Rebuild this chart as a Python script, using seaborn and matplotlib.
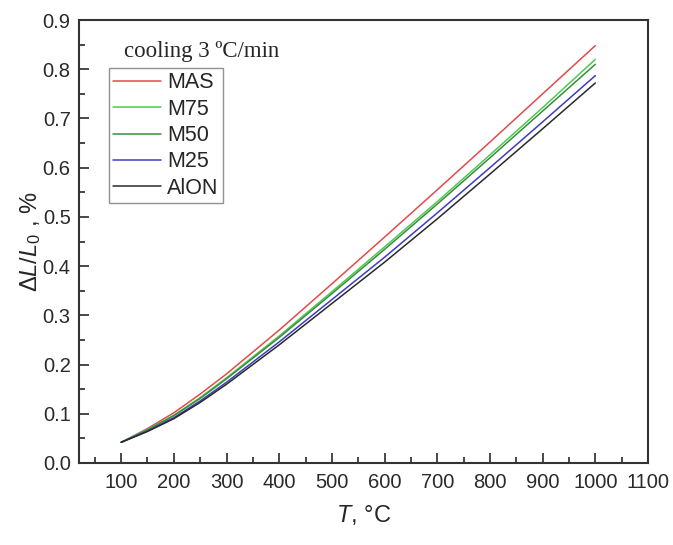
import matplotlib
matplotlib.use("Agg")
import matplotlib.pyplot as plt
import seaborn as sns
import pandas as pd
from matplotlib.ticker import MultipleLocator

T = [100, 150, 200, 250, 300, 400, 500, 600, 700, 800, 900, 1000]
MAS = [0.042, 0.070, 0.102, 0.140, 0.181, 0.270, 0.364, 0.459, 0.555, 0.652, 0.750, 0.848]
M75 = [0.042, 0.068, 0.097, 0.133, 0.173, 0.258, 0.348, 0.439, 0.531, 0.626, 0.722, 0.820]
M50 = [0.042, 0.067, 0.096, 0.131, 0.171, 0.255, 0.344, 0.434, 0.526, 0.620, 0.715, 0.810]
M25 = [0.042, 0.065, 0.092, 0.126, 0.164, 0.246, 0.332, 0.418, 0.508, 0.600, 0.693, 0.787]
AlON = [0.042, 0.064, 0.090, 0.123, 0.160, 0.240, 0.324, 0.408, 0.496, 0.587, 0.679, 0.772]
series_names = ["MAS", "M75", "M50", "M25", "AlON"]
series_vals = [MAS, M75, M50, M25, AlON]
colors = ["#e34a4a", "#4ccb50", "#3a8c3e", "#3c3cc4", "#2a2a2a"]

rows = []
for name, vals in zip(series_names, series_vals):
    for t, v in zip(T, vals):
        rows.append({"T": t, "dL": v, "sample": name})
df = pd.DataFrame(rows)

sns.set_theme(style="white")
plt.rcParams["font.family"] = ["Liberation Sans", "DejaVu Sans"]
plt.rcParams["mathtext.fontset"] = "custom"
plt.rcParams["mathtext.rm"] = "Liberation Sans"
plt.rcParams["mathtext.it"] = "Liberation Sans:italic"

fig = plt.figure(figsize=(6.73, 5.45), dpi=100)
ax = fig.add_axes([79/673, 1-463/545, (648-79)/673, (463-20)/545])

sns.lineplot(data=df, x="T", y="dL", hue="sample", hue_order=series_names,
             palette=colors, linewidth=1.1, ax=ax, legend=True)

ax.set_xlim(20, 1100)
ax.set_ylim(0, 0.9)
ax.xaxis.set_minor_locator(MultipleLocator(50))
ax.yaxis.set_major_locator(MultipleLocator(0.1))
ax.yaxis.set_minor_locator(MultipleLocator(0.05))
ax.set_xticks([100, 200, 300, 400, 500, 600, 700, 800, 900, 1000, 1100])
ax.yaxis.set_major_formatter(matplotlib.ticker.FormatStrFormatter("%.1f"))
ax.tick_params(axis="both", which="major", direction="in", length=7, width=1.2,
               labelsize=14.5, colors="#2a2a2a", bottom=True, left=True, top=False, right=False)
ax.tick_params(axis="both", which="minor", direction="in", length=4, width=1.2,
               bottom=True, left=True, top=False, right=False)
ax.tick_params(axis="x", pad=7)
ax.tick_params(axis="y", pad=6)
for s in ax.spines.values():
    s.set_color("#333333")
    s.set_linewidth(1.5)

ax.set_xlabel(r"$\mathit{T}$, °C", fontsize=17, labelpad=8)
ax.set_ylabel(r"$\Delta \mathit{L}/\mathit{L}_0$ , %", fontsize=17, labelpad=0)

leg = ax.legend(loc="upper left", bbox_to_anchor=(0.0527, 0.8916), fontsize=15.5,
                frameon=True, fancybox=False, edgecolor="#777777",
                handlelength=2.2, handletextpad=0.3, labelspacing=0.25,
                borderpad=0.2, borderaxespad=0)
leg.get_frame().set_linewidth(1.0)
ax.text(0.216, 0.928, "cooling 3 ºC/min", transform=ax.transAxes,
        ha="center", va="center", fontsize=16.5, family=["Liberation Serif", "DejaVu Serif"])

fig.savefig("out.png", dpi=100)
